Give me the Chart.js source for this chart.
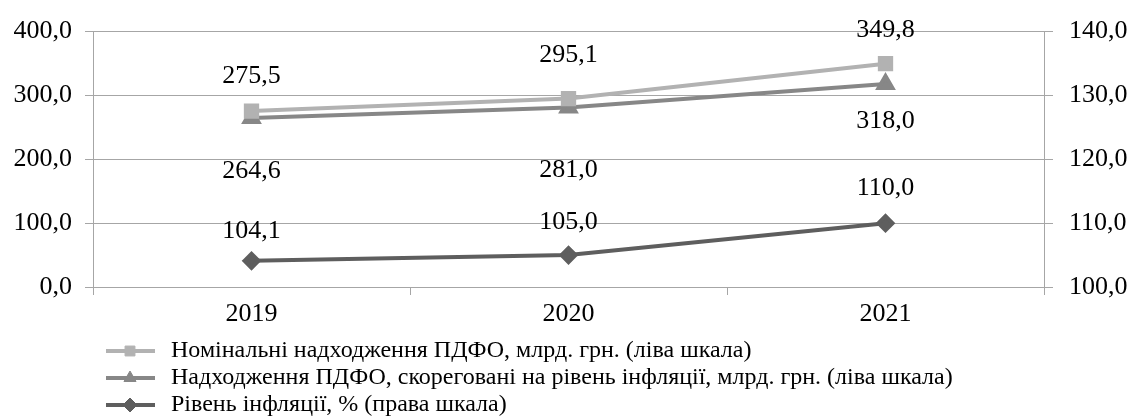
<!DOCTYPE html>
<html>
<head>
<meta charset="utf-8">
<script src="https://cdn.jsdelivr.net/npm/chart.js@4/dist/chart.umd.min.js"></script>
<style>
  html, body { margin: 0; padding: 0; background: #fff; }
  #wrap { width: 1132px; height: 419px; }
</style>
</head>
<body>
<div id="wrap"><canvas id="chart"></canvas></div>
<script>
const years = ['2019', '2020', '2021'];
const nominal = [275.5, 295.1, 349.8];
const adjusted = [264.6, 281.0, 318.0];
const inflation = [104.1, 105.0, 110.0];
const seriesNames = [
    'Номінальні надходження ПДФО, млрд. грн. (ліва шкала)',
    'Надходження ПДФО, скореговані на рівень інфляції, млрд. грн. (ліва шкала)',
    'Рівень інфляції, % (права шкала)'
];

// label offsets in px from the point (Excel labels were nudged by hand)
const labelShift = [
    [-35, -43, -33],
    [53, 63, 37],
    [-30, -33, -35]
];

const fmt = v => v.toFixed(1).replace('.', ',');
const FONT = "'Liberation Serif', serif";
const gridGray = '#a6a6a6';

const valueLabels = {
    id: 'valueLabels',
    afterDatasetsDraw(chart) {
        const ctx = chart.ctx;
        ctx.save();
        ctx.font = '26px ' + FONT;
        ctx.fillStyle = '#000';
        ctx.textAlign = 'center';
        ctx.textBaseline = 'middle';
        chart.data.datasets.forEach((ds, i) => {
            chart.getDatasetMeta(i).data.forEach((pt, j) => {
                ctx.fillText(fmt(ds.data[j]), pt.x, pt.y + labelShift[i][j]);
            });
        });
        ctx.restore();
    }
};

const bottomLegend = {
    id: 'bottomLegend',
    afterDraw(chart) {
        const ctx = chart.ctx;
        ctx.save();
        ctx.font = '24px ' + FONT;
        ctx.textBaseline = 'middle';
        chart.data.datasets.forEach((ds, i) => {
            const y = 351 + i * 27;
            ctx.strokeStyle = ds.borderColor;
            ctx.lineWidth = 4;
            ctx.beginPath();
            ctx.moveTo(106, y);
            ctx.lineTo(155, y);
            ctx.stroke();
            ctx.fillStyle = ds.backgroundColor;
            ctx.lineWidth = 1;
            Chart.helpers.drawPoint(ctx, {pointStyle: ds.pointStyle, radius: 7, borderWidth: 1}, 130, y);
            ctx.fillStyle = '#000';
            ctx.fillText(seriesNames[i], 171, y);
        });
        ctx.restore();
    }
};

new Chart(document.getElementById('chart').getContext('2d'), {
    type: 'line',
    data: {
        labels: years,
        datasets: [{
            data: nominal,
            yAxisID: 'y',
            borderColor: '#b2b2b2',
            backgroundColor: '#b2b2b2',
            borderWidth: 4,
            pointStyle: 'rect',
            pointRadius: 8,
        }, {
            data: adjusted,
            yAxisID: 'y',
            borderColor: '#878787',
            backgroundColor: '#878787',
            borderWidth: 4,
            pointStyle: 'triangle',
            pointRadius: 8,
        }, {
            data: inflation,
            yAxisID: 'y1',
            borderColor: '#5e5e5e',
            backgroundColor: '#5e5e5e',
            borderWidth: 4,
            pointStyle: 'rectRot',
            pointRadius: 7,
        }],
    },
    options: {
        responsive: true,
        maintainAspectRatio: false,
        animation: false,
        layout: {
            padding: {top: 27, bottom: 95, left: 0, right: 0},
        },
        plugins: {
            legend: {display: false},
            tooltip: {enabled: false},
        },
        scales: {
            x: {
                offset: true,
                grid: {
                    offset: true,
                    drawOnChartArea: false,
                    color: gridGray,
                    tickLength: 8,
                },
                border: {color: gridGray},
                ticks: {
                    color: '#000',
                    font: {family: FONT, size: 26},
                    padding: 4,
                },
                afterFit(s) { s.height = 37; },
            },
            y: {
                position: 'left',
                min: 0,
                max: 400,
                ticks: {
                    stepSize: 100,
                    color: '#000',
                    font: {family: FONT, size: 26},
                    padding: 13,
                    callback: v => fmt(v),
                },
                grid: {color: gridGray, tickLength: 8},
                border: {color: gridGray},
                afterFit(s) { s.width = 93; },
            },
            y1: {
                position: 'right',
                min: 100,
                max: 140,
                ticks: {
                    stepSize: 10,
                    color: '#000',
                    font: {family: FONT, size: 26},
                    padding: 16,
                    callback: v => fmt(v),
                },
                grid: {drawOnChartArea: false, color: gridGray, tickLength: 9},
                border: {color: gridGray},
                afterFit(s) { s.width = 88; },
            },
        },
    },
    plugins: [valueLabels, bottomLegend],
});
</script>
</body>
</html>
